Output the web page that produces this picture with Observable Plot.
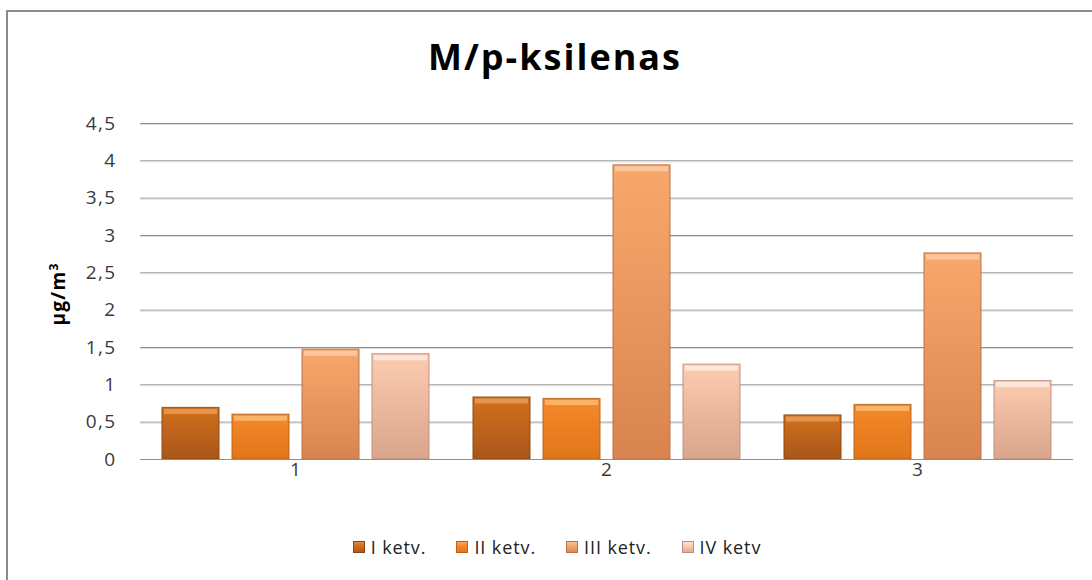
<!DOCTYPE html>
<html>
<head>
<meta charset="utf-8">
<script src="https://cdn.jsdelivr.net/npm/d3@7"></script>
<script src="https://cdn.jsdelivr.net/npm/@observablehq/plot@0.6"></script>
<style>
  html, body { margin: 0; padding: 0; background: #fff; }
  #wrap { position: relative; width: 1092px; height: 580px; overflow: hidden; font-family: "Open Sans", "Noto Sans", sans-serif; }
  #frame { position: absolute; left: 6px; top: 10px; width: 1200px; height: 700px; border-top: 2px solid #8c8c8c; border-left: 2px solid #8c8c8c; }
  #title { position: absolute; left: 0; width: 1110px; top: 32px; text-align: center; font-size: 36px; letter-spacing: 2px; font-weight: bold; color: #000; }
  #ylabel { position: absolute; left: 58px; top: 294px; transform: translate(-50%, -50%) rotate(-90deg); font-size: 19px; letter-spacing: 1.3px; font-weight: bold; color: #000; white-space: nowrap; }
  #ylabel sup { font-size: 12px; }
  #chart { position: absolute; left: 0; top: 0; }
  #legend { position: absolute; top: 535px; left: 2px; width: 1110px; display: flex; justify-content: center; gap: 30px; font-size: 18px; letter-spacing: 0.9px; color: #222; }
  #legend .item { display: flex; align-items: center; gap: 6px; }
  #legend .sw { width: 12px; height: 12px; display: inline-block; }
  #chart svg text { letter-spacing: 1.4px; }
</style>
</head>
<body>
<div id="wrap">
  <div id="frame"></div>
  <div id="chart"></div>
  <div id="title">M/p-ksilenas</div>
  <div id="ylabel">µg/m<sup>3</sup></div>
  <div id="legend"></div>
</div>
<script>
// ---- data ----
const sites = ["1", "2", "3"];
const quarters = ["I ketv.", "II ketv.", "III ketv.", "IV ketv"];
const q1 = [0.69, 0.83, 0.59];
const q2 = [0.60, 0.81, 0.73];
const q3 = [1.47, 3.94, 2.76];
const q4 = [1.41, 1.27, 1.05];
const yTicks = [0, 0.5, 1, 1.5, 2, 2.5, 3, 3.5, 4, 4.5];

// colours
const colTop = ["#d2701c", "#f5892a", "#f8a86c", "#fcccb0"];
const colBot = ["#a9561a", "#e0761a", "#d9844f", "#d9a48c"];
const colHi  = ["#e3954e", "#fbb466", "#fcc79c", "#fee6d8"];
const colEdge = ["#8a4610", "#b8621a", "#b8714a", "#b89080"];

const series = [q1, q2, q3, q4];
const data = [];
sites.forEach((s, i) => {
  quarters.forEach((q, j) => data.push({ site: s, quarter: q, value: series[j][i] }));
});

const gradIds = quarters.map((_, j) => `grad${j}`);

function defsMark() {
  const ns = "http://www.w3.org/2000/svg";
  const defs = document.createElementNS(ns, "defs");
  quarters.forEach((_, j) => {
    const g = document.createElementNS(ns, "linearGradient");
    g.setAttribute("id", gradIds[j]);
    g.setAttribute("x1", "0"); g.setAttribute("y1", "0");
    g.setAttribute("x2", "0"); g.setAttribute("y2", "1");
    [[0, colTop[j]], [1, colBot[j]]].forEach(([o, c]) => {
      const st = document.createElementNS(ns, "stop");
      st.setAttribute("offset", o);
      st.setAttribute("stop-color", c);
      g.appendChild(st);
    });
    defs.appendChild(g);
  });
  return defs;
}

const fmt = d => String(d).replace(".", ",");

const plot = Plot.plot({
  width: 1092,
  height: 500,
  marginTop: 123,
  marginBottom: 41,
  marginLeft: 140,
  marginRight: 19,
  style: { fontFamily: "'Open Sans', 'Noto Sans', sans-serif", fontSize: "19px", color: "#3a3a3a", background: "transparent" },
  fx: { domain: sites, padding: 0, label: null, axis: "bottom", tickSize: 0, tickPadding: 3 },
  x: { domain: quarters, paddingInner: 0.18, paddingOuter: 0.3, axis: null },
  y: { domain: [0, 4.5], ticks: yTicks, tickFormat: fmt, tickSize: 0, tickPadding: 24, label: null },
  color: { type: "ordinal", domain: quarters, range: gradIds.map(id => `url(#${id})`) },
  marks: [
    defsMark,
    Plot.ruleY(yTicks.slice(1), { stroke: "#8f8f8f", strokeWidth: 1 }),
    Plot.ruleY(yTicks.slice(1), { stroke: "#dddddd", strokeWidth: 1, dy: 1 }),
    Plot.barY(data, { fx: "site", x: "quarter", y: "value", fill: "quarter", stroke: d => colEdge[quarters.indexOf(d.quarter)], strokeWidth: 1.2, strokeOpacity: 0.8 }),
    Plot.tickY(data, { fx: "site", x: "quarter", y: "value", stroke: d => colHi[quarters.indexOf(d.quarter)], strokeWidth: 5, dy: 3.5, insetLeft: 2, insetRight: 2 }),
    Plot.ruleY([0], { stroke: "#8f8f8f", strokeWidth: 1.2 })
  ]
});
document.getElementById("chart").appendChild(plot);

// legend
const leg = document.getElementById("legend");
quarters.forEach((q, j) => {
  const it = document.createElement("div");
  it.className = "item";
  const sw = document.createElement("span");
  sw.className = "sw";
  sw.style.background = `linear-gradient(${colHi[j]}, ${colTop[j]} 40%, ${colBot[j]})`;
  sw.style.boxShadow = `inset 0 0 0 1px ${colEdge[j]}`;
  const tx = document.createElement("span");
  tx.textContent = q;
  it.appendChild(sw); it.appendChild(tx);
  leg.appendChild(it);
});
</script>
</body>
</html>
